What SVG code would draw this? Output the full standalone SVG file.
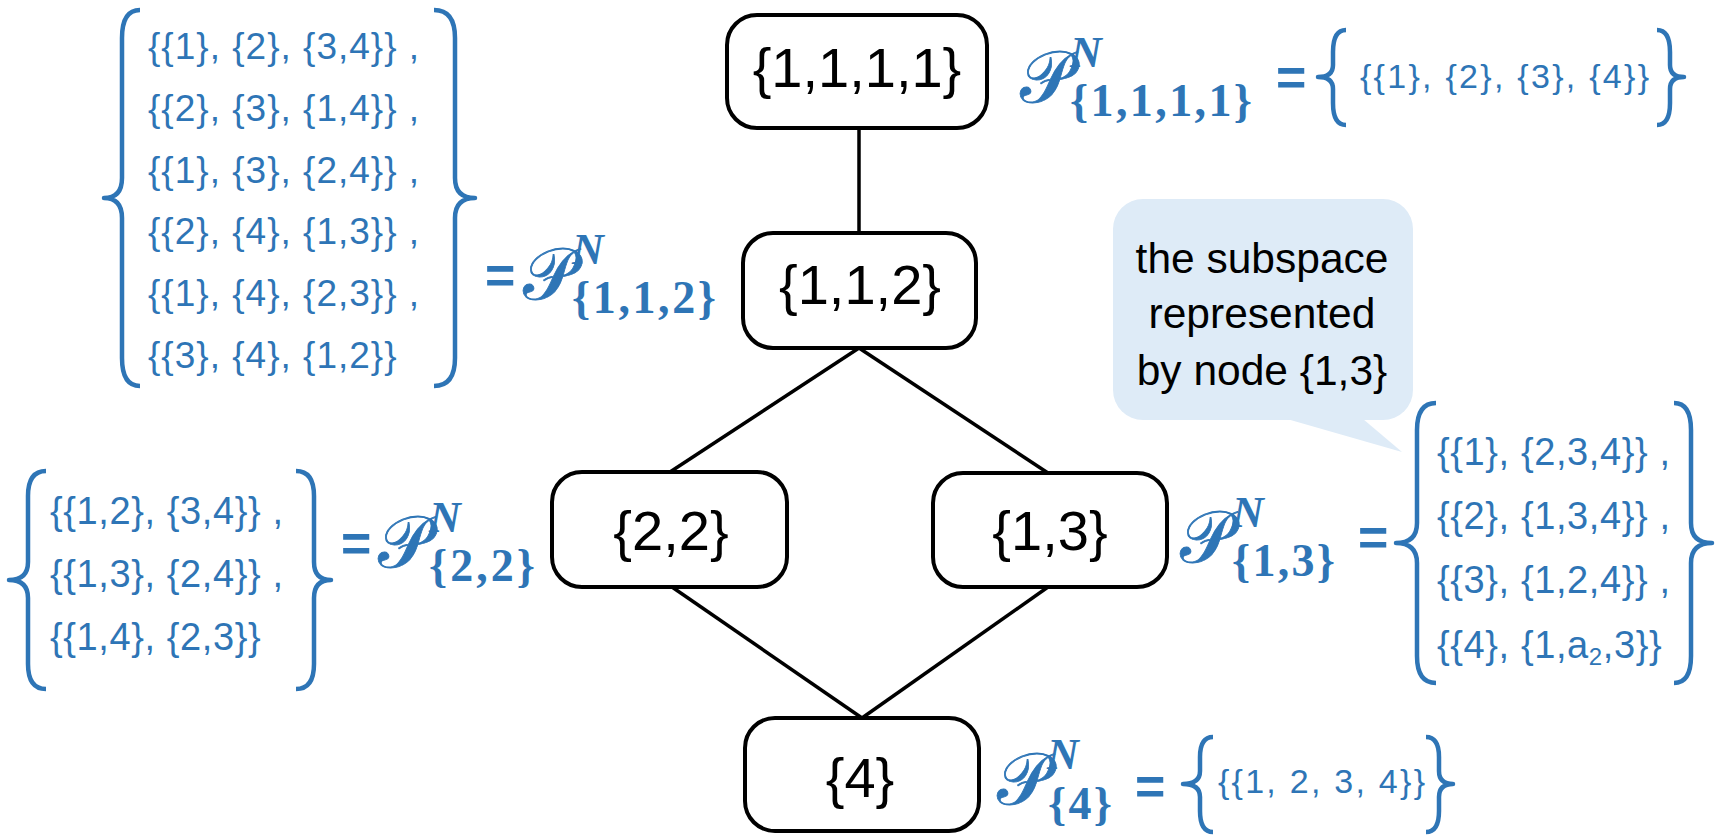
<svg xmlns="http://www.w3.org/2000/svg" width="1719" height="835" viewBox="0 0 1719 835">
<style>
.node rect{fill:#fff;stroke:#000;stroke-width:4}
.lbl{font-family:"Liberation Sans",Arial,sans-serif;font-size:56px;fill:#000;text-anchor:middle}
.edge{stroke:#000;stroke-width:3.5;fill:none}
.brace{fill:none;stroke:#2E75B6;stroke-width:4.5;stroke-linejoin:round;stroke-linecap:butt}
.set{font-family:"Liberation Sans",Arial,sans-serif;font-size:37px;fill:#2E75B6;letter-spacing:1px}
.set2{font-family:"Liberation Sans",Arial,sans-serif;font-size:38px;fill:#2E75B6;letter-spacing:0.6px}
.sm{font-family:"Liberation Sans",Arial,sans-serif;fill:#2E75B6}
.P{font-family:"DejaVu Serif","DejaVu Sans","Noto Sans",serif;font-size:72px;fill:#2E75B6;stroke:#2E75B6;stroke-width:0.8}
.N{font-family:"Liberation Serif","Times New Roman",serif;font-style:italic;font-weight:bold;font-size:44px;fill:#2E75B6}
.sub{font-family:"Liberation Serif","Times New Roman",serif;font-weight:bold;font-size:46px;fill:#2E75B6}
.eq{font-family:"Liberation Sans",Arial,sans-serif;font-weight:bold;font-size:52px;fill:#2E75B6}
.call{font-family:"Liberation Sans",Arial,sans-serif;font-size:42.5px;fill:#000;text-anchor:middle}
</style>

<g id="connectors">
<line class="edge" x1="859" y1="128" x2="859" y2="233"/>
<line class="edge" x1="859" y1="348" x2="670" y2="472"/>
<line class="edge" x1="859" y1="348" x2="1048" y2="473"/>
<line class="edge" x1="672" y1="587" x2="862" y2="718"/>
<line class="edge" x1="1048" y1="587" x2="862" y2="718"/>
</g>

<g id="node-1111" class="node">
<rect x="727" y="15" width="260" height="113" rx="30"/>
<text class="lbl" x="857" y="87">{1,1,1,1}</text>
</g>
<g id="node-112" class="node">
<rect x="743" y="233" width="233" height="115" rx="30"/>
<text class="lbl" x="860" y="304">{1,1,2}</text>
</g>
<g id="node-22" class="node">
<rect x="552" y="472" width="235" height="115" rx="30"/>
<text class="lbl" x="671" y="550">{2,2}</text>
</g>
<g id="node-13" class="node">
<rect x="933" y="473" width="234" height="114" rx="30"/>
<text class="lbl" x="1050" y="550">{1,3}</text>
</g>
<g id="node-4" class="node">
<rect x="745" y="718" width="234" height="113" rx="30"/>
<text class="lbl" x="860" y="797">{4}</text>
</g>

<g id="callout">
<rect x="1113" y="199" width="300" height="221" rx="30" fill="#DEEBF7"/>
<polygon points="1287,419 1402,452 1363,419" fill="#DEEBF7"/>
<text class="call" x="1262" y="273">the subspace</text>
<text class="call" x="1262" y="328">represented</text>
<text class="call" x="1262" y="385">by node {1,3}</text>
</g>

<g id="formula-1111">
<text class="P" x="1020" y="102">𝒫</text>
<text class="N" x="1070" y="67">N</text>
<text class="sub" x="1070" y="116" textLength="182">{1,1,1,1}</text>
<text class="eq" x="1276" y="95">=</text>
<path class="brace" d="M1346,30 Q1333,30 1333,52 L1333,65 Q1333,77 1318,77 Q1333,77 1333,89 L1333,103 Q1333,125 1346,125"/>
<text class="sm" x="1360" y="88" font-size="34" textLength="289">{{1}, {2}, {3}, {4}}</text>
<path class="brace" d="M1657,30 Q1670,30 1670,52 L1670,65 Q1670,77 1684,77 Q1670,77 1670,89 L1670,103 Q1670,125 1657,125"/>
</g>

<g id="formula-112">
<path class="brace" d="M140,10 Q122,10 122,38 L122,178 Q122,198 104,198 Q122,198 122,218 L122,358 Q122,386 140,386"/>
<text class="set" x="148" y="59">{{1}, {2}, {3,4}} ,</text>
<text class="set" x="148" y="121">{{2}, {3}, {1,4}} ,</text>
<text class="set" x="148" y="183">{{1}, {3}, {2,4}} ,</text>
<text class="set" x="148" y="244">{{2}, {4}, {1,3}} ,</text>
<text class="set" x="148" y="306">{{1}, {4}, {2,3}} ,</text>
<text class="set" x="148" y="368">{{3}, {4}, {1,2}}</text>
<path class="brace" d="M434,10 Q455,10 455,38 L455,178 Q455,198 475,198 Q455,198 455,218 L455,358 Q455,386 434,386"/>
<text class="eq" x="485" y="293">=</text>
<text class="P" x="523" y="299">𝒫</text>
<text class="N" x="572" y="264">N</text>
<text class="sub" x="572" y="313" textLength="144">{1,1,2}</text>
</g>

<g id="formula-22">
<path class="brace" d="M46,471 Q28,471 28,496 L28,562 Q28,580 9,580 Q28,580 28,598 L28,664 Q28,689 46,689"/>
<text class="set2" x="50" y="524">{{1,2}, {3,4}} ,</text>
<text class="set2" x="50" y="587">{{1,3}, {2,4}} ,</text>
<text class="set2" x="50" y="650">{{1,4}, {2,3}}</text>
<path class="brace" d="M296,471 Q314,471 314,496 L314,562 Q314,580 331,580 Q314,580 314,598 L314,664 Q314,689 296,689"/>
<text class="eq" x="341" y="561">=</text>
<text class="P" x="378" y="567">𝒫</text>
<text class="N" x="429" y="532">N</text>
<text class="sub" x="429" y="581" textLength="106">{2,2}</text>
</g>

<g id="formula-13">
<text class="P" x="1180" y="562">𝒫</text>
<text class="N" x="1232" y="527">N</text>
<text class="sub" x="1232" y="576" textLength="103">{1,3}</text>
<text class="eq" x="1358" y="555">=</text>
<path class="brace" d="M1436,403 Q1417,403 1417,430 L1417,523 Q1417,543 1396,543 Q1417,543 1417,563 L1417,656 Q1417,683 1436,683"/>
<text class="set2" x="1437" y="465">{{1}, {2,3,4}} ,</text>
<text class="set2" x="1437" y="529">{{2}, {1,3,4}} ,</text>
<text class="set2" x="1437" y="593">{{3}, {1,2,4}} ,</text>
<text class="set2" x="1437" y="658" letter-spacing="1">{{4}, {1,a<tspan font-size="24" dy="7">2</tspan><tspan dy="-7">,3}}</tspan></text>
<path class="brace" d="M1674,403 Q1691,403 1691,430 L1691,523 Q1691,543 1712,543 Q1691,543 1691,563 L1691,656 Q1691,683 1674,683"/>
</g>

<g id="formula-4">
<text class="P" x="997" y="804">𝒫</text>
<text class="N" x="1047" y="769">N</text>
<text class="sub" x="1048" y="819" textLength="64">{4}</text>
<text class="eq" x="1135" y="804">=</text>
<path class="brace" d="M1213,737 Q1200,737 1200,757 L1200,771 Q1200,784 1183,784 Q1200,784 1200,797 L1200,811 Q1200,832 1213,832"/>
<text class="sm" x="1218" y="793" font-size="34" textLength="207">{{1, 2, 3, 4}}</text>
<path class="brace" d="M1426,737 Q1439,737 1439,757 L1439,771 Q1439,784 1453,784 Q1439,784 1439,797 L1439,811 Q1439,832 1426,832"/>
</g>
</svg>
